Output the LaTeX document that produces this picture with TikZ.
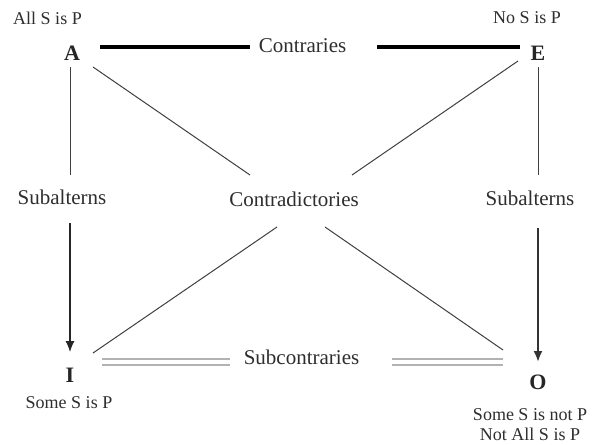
\documentclass[tikz,border=0pt]{standalone}
\usepackage{fontspec}
\setmainfont{Liberation Serif}
\usetikzlibrary{arrows.meta}
\begin{document}
\begin{tikzpicture}[x=1pt,y=-1pt,
  big/.style={inner sep=0pt, text=black!82, font=\fontsize{21}{24}\selectfont},
  small/.style={inner sep=0pt, text=black!82, font=\fontsize{18}{20}\selectfont, align=center},
  corner/.style={inner sep=0pt, text=black!85, font=\fontsize{22}{24}\selectfont\bfseries},
  contraline/.style={line width=4pt, draw=black},
  thinline/.style={line width=1pt, draw=black!75},
  subarrow/.style={line width=1.1pt, draw=black!85, -{Latex[length=11pt,width=9pt]}},
  subarrowR/.style={line width=2pt, draw=black!80, -{Latex[length=11pt,width=9pt]}},
  subcline/.style={draw=black!30, line width=2pt, double=white, double distance=3.5pt}
]
\useasboundingbox (0,0) rectangle (593,444);
\fill[white] (0,0) rectangle (593,444);

% text nodes
\node[small] (allS) at (47.5,18) {All S is P};
\node[small] (noS) at (527,18) {No S is P};
\node[corner] (A) at (72,53) {A};
\node[corner] (E) at (538,53) {E};
\node[corner] (I) at (70,375) {I};
\node[corner] (O) at (538,382) {O};
\node[small] (someSP) at (69,403) {Some S is P};
\node[small] (someSnP) at (530,425) {Some S is not P\\Not All S is P};
\node[big] (Contr) at (302.5,46) {Contraries};
\node[big] (SubL) at (62,197) {Subalterns};
\node[big] (SubR) at (530,198) {Subalterns};
\node[big] (Cd) at (294,199) {Contradictories};
\node[big] (Sc) at (301.5,357) {Subcontraries};

% contraries
\draw[contraline] ([xshift=28pt,yshift=6pt]A.center) -- ([xshift=-52.5pt,yshift=-1pt]Contr.center);
\draw[contraline] ([xshift=74.5pt,yshift=-1pt]Contr.center) -- ([xshift=-18pt,yshift=6pt]E.center);

% subalterns left
\draw[thinline] ([xshift=-2pt,yshift=-14pt]A.center) -- ([xshift=8pt,yshift=22pt]SubL.center);
\draw[subarrow] ([xshift=8pt,yshift=-26pt]SubL.center) -- ([yshift=23pt]I.center);

% subalterns right
\draw[thinline] ([yshift=-14pt]E.center) -- ([xshift=8pt,yshift=23pt]SubR.center);
\draw[subarrowR] ([xshift=8pt,yshift=-30pt]SubR.center) -- ([yshift=20pt]O.center);

% contradictories
\draw[thinline] ([xshift=21pt,yshift=-14pt]A.center) -- ([xshift=-44pt,yshift=24pt]Cd.center);
\draw[thinline] ([xshift=-20pt,yshift=-8pt]E.center) -- ([xshift=58pt,yshift=24pt]Cd.center);
\draw[thinline] ([xshift=-17pt,yshift=-28pt]Cd.center) -- ([xshift=23pt,yshift=22pt]I.center);
\draw[thinline] ([xshift=31pt,yshift=-28pt]Cd.center) -- ([xshift=-35pt,yshift=32pt]O.center);

% subcontraries
\draw[subcline] ([xshift=32pt,yshift=13pt]I.center) -- ([xshift=-71.5pt,yshift=-5pt]Sc.center);
\draw[subcline] ([xshift=90.5pt,yshift=-5pt]Sc.center) -- ([xshift=-35pt,yshift=20pt]O.center);
\end{tikzpicture}
\end{document}
